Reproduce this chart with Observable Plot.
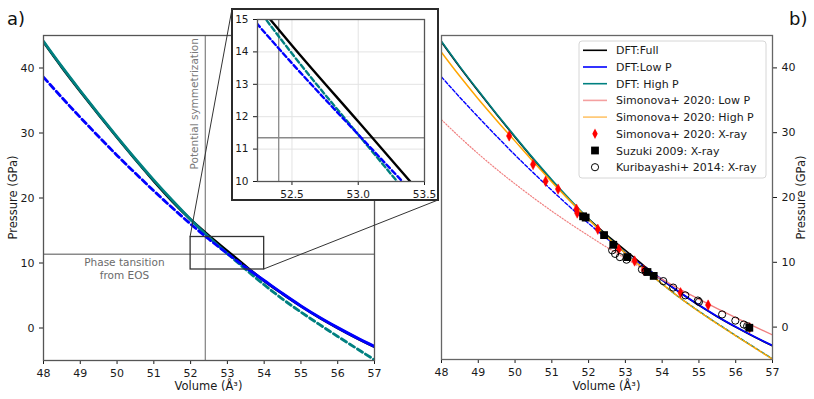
<!DOCTYPE html>
<html><head><meta charset="utf-8">
<script src="https://cdn.jsdelivr.net/npm/d3@7"></script>
<script src="https://cdn.jsdelivr.net/npm/@observablehq/plot@0.6"></script>
<style>
body{margin:0;background:#fff;font-family:"DejaVu Sans",sans-serif;}
#wrap{position:relative;width:814px;height:399px;overflow:hidden;background:#fff}
#wrap > *{position:absolute}
</style></head><body><div id="wrap"></div>
<script>
// ---- data ----
const volume   = [48,48.5,49,49.5,50,50.5,51,51.5,52,52.5,53,53.5,54,54.5,55,55.5,56,56.5,57];
const pFull    = [44.0,40.1,36.4,32.8,29.3,25.9,22.6,19.5,16.7,14.2,11.85,9.5,7.25,5.25,3.35,1.6,0.0,-1.5,-2.9];
const pLow     = [38.6,35.45,32.4,29.45,26.55,23.8,21.1,18.5,16.0,13.65,11.45,9.3,7.3,5.3,3.4,1.65,0.05,-1.45,-2.85];
const pHigh    = [44.1,40.2,36.5,32.9,29.4,26.0,22.75,19.65,16.7,13.95,11.45,9.0,6.65,4.45,2.45,0.55,-1.3,-3.1,-4.9];
const pSimHigh = [42.4,38.7,35.2,31.9,28.7,25.5,22.4,19.45,16.6,13.9,11.4,9.0,6.65,4.45,2.4,0.5,-1.35,-3.15,-4.95];
const pSimLow  = [32.0,29.3,26.75,24.35,22.1,19.95,17.9,15.95,14.1,12.3,10.6,8.95,7.35,5.8,4.3,2.85,1.45,0.1,-1.2];

const simV = [49.84,50.49,50.83,51.17,51.67,51.69,52.25,52.82,53.25,53.50,54.50,55.25,56.38];
const simP = [29.5,25.1,22.5,21.3,18.2,17.6,15.1,12.0,10.2,8.8,5.3,3.4,-0.1];
const suzV = [51.85,51.92,52.42,52.67,53.05,53.60,53.77,56.37];
const suzP = [17.1,16.9,14.2,12.7,10.8,8.5,7.9,-0.1];
const kurV = [52.64,52.72,52.85,53.03,53.45,53.55,54.03,54.30,54.63,54.97,55.00,55.63,55.99,56.22,56.31];
const kurP = [11.85,11.3,10.8,10.4,8.9,8.6,7.1,6.1,4.9,4.1,3.9,1.95,1.0,0.4,0.15];

const pTransition = 11.35;   // phase transition from EOS (GPa)
const vSymmetrization = 52.4; // potential symmetrization volume
const zoomBox = [{x1:52, x2:54, y1:9, y2:14}];

const xTicks = [48,49,50,51,52,53,54,55,56,57];
const yTicks = [0,10,20,30,40];
const xTicksInset = [52.5,53.0,53.5];
const yTicksInset = [10,11,12,13,14,15];
const xDomain = [48,57], yDomain = [-5,45];
const xDomainInset = [52.24,53.5], yDomainInset = [10,15];

const legendItems = [
  {label:"DFT:Full", type:"line", color:"#000"},
  {label:"DFT:Low P", type:"line", color:"#0000ff"},
  {label:"DFT: High P", type:"line", color:"teal"},
  {label:"Simonova+ 2020: Low P", type:"line", color:"#f4a0a0"},
  {label:"Simonova+ 2020: High P", type:"line", color:"#ffc46b"},
  {label:"Simonova+ 2020: X-ray", type:"diamond", color:"red"},
  {label:"Suzuki 2009: X-ray", type:"square", color:"#000"},
  {label:"Kuribayashi+ 2014: X-ray", type:"circle", color:"#000"}
];

// ---- helpers ----
function seg(P, lo, hi){ return volume.map((v,i)=>({v, p:P[i]})).filter(d=>d.v>=lo-1e-9 && d.v<=hi+1e-9); }
const pts = (V,P) => V.map((v,i)=>({v, p:P[i]}));
const thinDiamond = { draw(ctx, size){ const r=Math.sqrt(size/Math.PI); ctx.moveTo(0,-r*1.3); ctx.lineTo(r*0.68,0); ctx.lineTo(0,r*1.3); ctx.lineTo(-r*0.68,0); ctx.closePath(); } };
const font = {fontFamily:"'DejaVu Sans', sans-serif", fontSize:"11px", color:"#1a1a1a", background:"transparent", overflow:"visible"};
const L = (data, o) => Plot.line(data, {x:"v", y:"p", curve:"monotone-x", clip:true, ...o});

const wrap = document.getElementById("wrap");

// ---- panel a ----
const left = Plot.plot({
  width:400, height:399, marginLeft:43, marginRight:26, marginTop:35, marginBottom:39,
  x:{domain:xDomain, ticks:xTicks, tickSize:4, tickFormat:d3.format("d"), label:null},
  y:{domain:yDomain, ticks:yTicks, tickSize:4, tickFormat:d3.format("d"), label:null},
  style:font,
  marks:[
    Plot.ruleX([vSymmetrization], {stroke:"#8a8a8a", strokeWidth:1.3}),
    Plot.ruleY([pTransition], {stroke:"#8a8a8a", strokeWidth:1.3}),
    L(seg(pFull,48,57), {stroke:"#000", strokeWidth:2.6}),
    L(seg(pHigh,48,53), {stroke:"teal", strokeWidth:2.8}),
    L(seg(pHigh,53,57), {stroke:"teal", strokeWidth:2.8, strokeDasharray:"6,3.5"}),
    L(seg(pLow,48,53.5), {stroke:"#0000ff", strokeWidth:2.8, strokeDasharray:"6,3.5"}),
    L(seg(pLow,53.5,57), {stroke:"#0000ff", strokeWidth:3}),
    Plot.rect(zoomBox, {x1:"x1", x2:"x2", y1:"y1", y2:"y2", fill:"none", stroke:"#333", strokeWidth:1.3}),
    Plot.text(["Phase tansition\nfrom EOS"], {x:50.2, y:11.0, lineAnchor:"top", fill:"#6b6b6b", fontSize:10.5, lineHeight:1.25}),
    Plot.text(["Potential symmetrization"], {x:52.1, y:34.5, rotate:-90, fill:"#7a7a7a", fontSize:10.5}),
    Plot.frame({stroke:"#555", strokeWidth:1.3})
  ]
});
left.style.left = "0px"; left.style.top = "0px";
wrap.appendChild(left);

// ---- panel b ----
const right = Plot.plot({
  width:414, height:399, marginLeft:41, marginRight:42, marginTop:35, marginBottom:40,
  x:{domain:xDomain, ticks:xTicks, tickSize:4, tickFormat:d3.format("d"), label:null},
  y:{domain:yDomain, ticks:yTicks, tickSize:4, tickFormat:d3.format("d"), label:null, axis:"right"},
  style:font,
  marks:[
    L(seg(pFull,48,57), {stroke:"#000", strokeWidth:1.6}),
    L(seg(pHigh,48,53), {stroke:"teal", strokeWidth:1.6}),
    L(seg(pHigh,53,57), {stroke:"teal", strokeWidth:1.5, strokeDasharray:"4,2"}),
    L(seg(pLow,48,53.5), {stroke:"#0000ff", strokeWidth:1.4, strokeDasharray:"3.5,2"}),
    L(seg(pLow,53.5,57), {stroke:"#0000ff", strokeWidth:1.8}),
    L(seg(pSimHigh,48,53), {stroke:"orange", strokeWidth:1.5}),
    L(seg(pSimHigh,53,57), {stroke:"orange", strokeWidth:1.5, strokeDasharray:"4,2", strokeDashoffset:3}),
    L(seg(pSimLow,48,53.5), {stroke:"#f08080", strokeWidth:1.2, strokeDasharray:"1.2,1.8"}),
    L(seg(pSimLow,53.5,57), {stroke:"#f08080", strokeWidth:1.4}),
    Plot.dot(pts(simV,simP), {x:"v", y:"p", symbol:thinDiamond, r:4, fill:"red", stroke:"red", strokeWidth:0.5}),
    Plot.dot(pts(suzV,suzP), {x:"v", y:"p", symbol:"square", r:4.4, fill:"#000"}),
    Plot.dot(pts(kurV,kurP), {x:"v", y:"p", symbol:"circle", r:3.6, fill:"none", stroke:"#000", strokeWidth:1}),
    Plot.frame({stroke:"#666", strokeWidth:1.3})
  ]
});
right.style.left = "400px"; right.style.top = "0px";
wrap.appendChild(right);

// ---- inset ----
const inset = Plot.plot({
  width:206, height:191, marginLeft:25, marginRight:14, marginTop:10, marginBottom:19,
  x:{domain:xDomainInset, ticks:xTicksInset, tickFormat:d3.format(".1f"), tickSize:4, label:null},
  y:{domain:yDomainInset, ticks:yTicksInset, tickFormat:d3.format("d"), tickSize:4, label:null},
  style:{...font, fontSize:"10.5px", background:"#fff"},
  marks:[
    Plot.ruleX(xTicksInset, {stroke:"#e3e3e3", strokeWidth:1}),
    Plot.ruleY(yTicksInset, {stroke:"#e3e3e3", strokeWidth:1}),
    Plot.ruleX([vSymmetrization], {stroke:"#8a8a8a", strokeWidth:1.3}),
    Plot.ruleY([pTransition], {stroke:"#8a8a8a", strokeWidth:1.3}),
    L(seg(pFull,48,57), {stroke:"#000", strokeWidth:2.4}),
    L(seg(pHigh,48,57), {stroke:"teal", strokeWidth:2.4, strokeDasharray:"5,3"}),
    L(seg(pLow,48,57), {stroke:"#0000ff", strokeWidth:2.4, strokeDasharray:"5,3"}),
    Plot.frame({stroke:"#555", strokeWidth:1.3})
  ]
});
inset.style.left = "232px"; inset.style.top = "9px";
wrap.appendChild(inset);

// ---- overlay: inset frame, connectors, labels, legend ----
const ns = "http://www.w3.org/2000/svg";
const ov = document.createElementNS(ns, "svg");
ov.setAttribute("width", 814); ov.setAttribute("height", 399);
ov.style.left = "0px"; ov.style.top = "0px";
ov.setAttribute("font-family", "'DejaVu Sans', sans-serif");
wrap.appendChild(ov);
function el(tag, attrs, text){ const e=document.createElementNS(ns, tag); for(const k in attrs) e.setAttribute(k, attrs[k]); if(text!=null) e.textContent=text; ov.appendChild(e); return e; }

const sx = left.scale("x"), sy = left.scale("y");
const ix0 = 232, iy0 = 9, ix1 = 438, iy1 = 200;
el("rect", {x:ix0, y:iy0, width:ix1-ix0, height:iy1-iy0, fill:"none", stroke:"#2b2b2b", "stroke-width":2});
el("line", {x1:sx.apply(zoomBox[0].x1), y1:sy.apply(zoomBox[0].y2), x2:ix0, y2:iy0, stroke:"#333", "stroke-width":1});
el("line", {x1:sx.apply(zoomBox[0].x2), y1:sy.apply(zoomBox[0].y1), x2:ix1, y2:iy1, stroke:"#333", "stroke-width":1});

el("text", {x:7, y:24.5, "font-size":18, fill:"#111"}, "a)");
el("text", {x:789, y:24.5, "font-size":18, fill:"#111"}, "b)");
el("text", {x:208.5, y:390, "font-size":11.5, "text-anchor":"middle", fill:"#1a1a1a"}, "Volume (Å³)");
el("text", {x:606.5, y:390, "font-size":11.5, "text-anchor":"middle", fill:"#1a1a1a"}, "Volume (Å³)");
el("text", {transform:"translate(17,197.5) rotate(-90)", "font-size":11.5, "text-anchor":"middle", fill:"#1a1a1a"}, "Pressure (GPa)");
el("text", {transform:"translate(804.5,197.5) rotate(-90)", "font-size":11.5, "text-anchor":"middle", fill:"#1a1a1a"}, "Pressure (GPa)");

// legend
const lgX = 579, lgY = 41, lgW = 187, lgH = 137, rowH = 16.7;
el("rect", {x:lgX, y:lgY, width:lgW, height:lgH, rx:3, fill:"#fff", "fill-opacity":0.85, stroke:"#d6d6d6", "stroke-width":1});
legendItems.forEach((it, i) => {
  const cy = lgY + 9.3 + i*rowH;
  const cx = lgX + 16;
  if (it.type === "line") el("line", {x1:lgX+4, x2:lgX+28, y1:cy, y2:cy, stroke:it.color, "stroke-width":1.6});
  else if (it.type === "diamond") el("path", {d:`M${cx},${cy-5.2}L${cx+2.7},${cy}L${cx},${cy+5.2}L${cx-2.7},${cy}Z`, fill:it.color});
  else if (it.type === "square") el("rect", {x:cx-3.9, y:cy-3.9, width:7.8, height:7.8, fill:it.color});
  else el("circle", {cx, cy, r:3.6, fill:"none", stroke:it.color, "stroke-width":1});
  el("text", {x:lgX+37, y:cy+4, "font-size":11, fill:"#1a1a1a"}, it.label);
});
</script></body></html>
